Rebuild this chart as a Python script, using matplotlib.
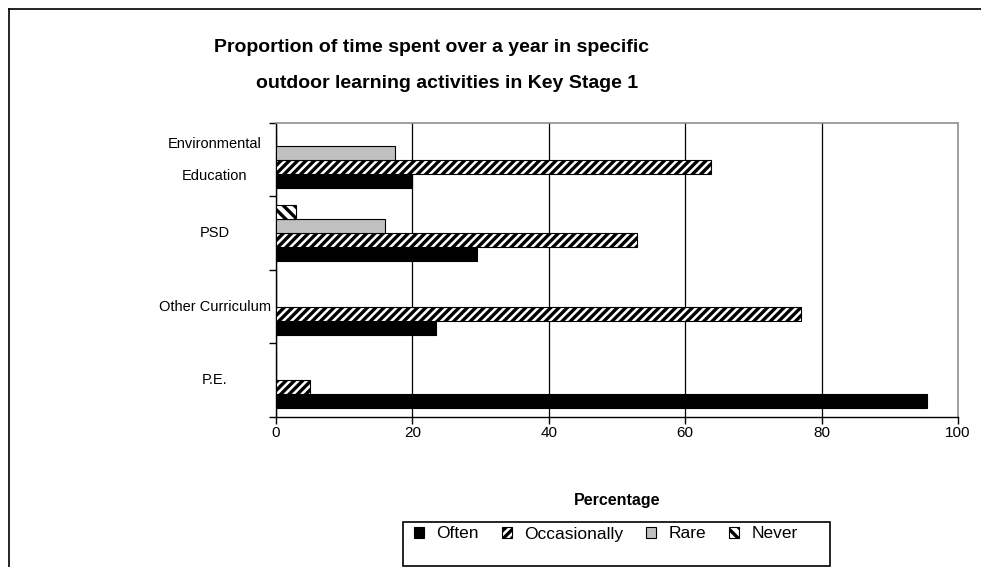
import matplotlib.pyplot as plt
import numpy as np
from matplotlib.lines import Line2D
from matplotlib.patches import Rectangle

plt.rc('font', family=['Liberation Sans', 'DejaVu Sans'], size=10)
plt.rc('hatch', linewidth=2.4, color='black')

# Data ========================================================================
categories = ['P.E.', 'Other Curriculum', 'PSD', 'Environmental\nEducation']
series = ['Often', 'Occasionally', 'Rare', 'Never']
often = [95.5, 23.5, 29.5, 20.0]
occasionally = [5.0, 77.0, 53.0, 63.8]
rare = [0.0, 0.0, 16.0, 17.5]
never = [0.0, 0.0, 3.0, 0.0]
x_ticks = [0, 20, 40, 60, 80, 100]

values = [often, occasionally, rare, never]
faces = ['black', 'white', '#c0c0c0', 'white']
hatches = [None, '////', None, '\\\\\\']

fig = plt.figure(figsize=(9.81, 5.67), dpi=100)
ax = fig.add_axes([0.2813, 0.2646, 0.6952, 0.5185])

y = np.arange(len(categories))
h = 0.19
for i, (name, vals) in enumerate(zip(series, values)):
    ax.barh(y + (i - 1.5) * h, vals, height=h, color=faces[i],
            edgecolor='black', linewidth=0.8, hatch=hatches[i], label=name,
            zorder=3)

ax.set_xlim(0, 100)
ax.set_ylim(-0.5, len(categories) - 0.5)
ax.set_xticks(x_ticks)
ax.set_xticklabels([str(t) for t in x_ticks], fontsize=11)
ax.set_yticks(np.arange(len(categories) + 1) - 0.5)
ax.set_yticklabels([])
ax.set_yticks(y, minor=True)
ax.set_yticklabels(categories, minor=True, fontsize=10.5, ha='center',
                   va='center', linespacing=2.6)
ax.tick_params(axis='y', which='minor', length=0, pad=44)
ax.tick_params(axis='y', which='major', direction='out', length=5, width=1)
ax.tick_params(axis='x', direction='out', length=5, width=1, pad=1.5)

ax.xaxis.grid(True, color='black', linewidth=0.9, zorder=0)
ax.set_axisbelow(True)
for s in ['top', 'right']:
    ax.spines[s].set_color('#909090')
    ax.spines[s].set_linewidth(1.2)
for s in ['left', 'bottom']:
    ax.spines[s].set_color('black')
    ax.spines[s].set_linewidth(1.0)

ax.set_xlabel('Percentage', fontsize=11.5, fontweight='bold', labelpad=38)

fig.text(0.4395, 1 - 47 / 567, 'Proportion of time spent over a year in specific',
         ha='center', va='center', fontsize=14, fontweight='bold')
fig.text(0.4555, 1 - 83 / 567, 'outdoor learning activities in Key Stage 1',
         ha='center', va='center', fontsize=14, fontweight='bold')

leg = fig.legend(loc='center left', bbox_to_anchor=(414 / 981, 1 - 534 / 567),
                 ncol=4, frameon=False, fontsize=12.5,
                 handlelength=0.6, handleheight=0.6, handletextpad=0.7,
                 columnspacing=1.3, borderpad=0.0, borderaxespad=0.0)

# legend box and outer frame of the chart
fig.add_artist(Rectangle((403 / 981, 1 - 566 / 567), 427 / 981, 44 / 567,
                         fill=False, edgecolor='black', linewidth=1.2,
                         transform=fig.transFigure))
fig.add_artist(Line2D([9 / 981, 9 / 981], [0, 1 - 9 / 567], color='black',
                      linewidth=1.2, transform=fig.transFigure))
fig.add_artist(Line2D([9 / 981, 1], [1 - 9 / 567, 1 - 9 / 567], color='black',
                      linewidth=1.2, transform=fig.transFigure))

fig.savefig('out.png', dpi=100)
plt.close(fig)
